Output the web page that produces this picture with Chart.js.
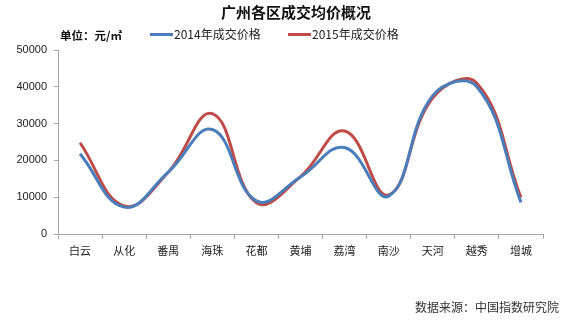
<!DOCTYPE html>
<html>
<head>
<meta charset="utf-8">
<script src="https://cdn.jsdelivr.net/npm/chart.js@4/dist/chart.umd.min.js"></script>
<style>
  html, body { margin: 0; padding: 0; background: #fff; }
  #wrap { position: relative; width: 574px; height: 323px; overflow: hidden; font-family: "Noto Sans CJK SC", "Liberation Sans", sans-serif; color: #222; }
  #c { position: absolute; left: 0; top: 0; }
  .t { position: absolute; white-space: nowrap; line-height: 1; }
  #title { left: 221px; top: 4px; font-size: 15px; font-weight: bold; color: #111; }
  #unit { left: 60px; top: 30px; font-size: 11.5px; font-weight: bold; color: #111; }
  .lg { position: absolute; top: 25px; font-size: 12px; color: #222; }
  .lg i { display: inline-block; width: 23px; height: 3px; vertical-align: middle; margin-right: 1px; position: relative; top: -1px; }
  #src { left: 415px; top: 301px; font-size: 12px; color: #333; }
</style>
</head>
<body>
<div id="wrap">
  <canvas id="c" width="574" height="323"></canvas>
  <div class="t" id="title">广州各区成交均价概况</div>
  <div class="t" id="unit">单位：元/㎡</div>
  <div class="lg" id="lg1" style="left:150px"><i style="background:#4a7ebb"></i><span></span></div>
  <div class="lg" id="lg2" style="left:288px"><i style="background:#be4b48"></i><span></span></div>
  <div class="t" id="src">数据来源：中国指数研究院</div>
</div>
<script>
const categories = ["白云", "从化", "番禺", "海珠", "花都", "黄埔", "荔湾", "南沙", "天河", "越秀", "增城"];
const seriesNames = ["2014年成交价格", "2015年成交价格"];
const price2014 = [21800, 7300, 16800, 28400, 9000, 15500, 23500, 10300, 37600, 40000, 8600];
const price2015 = [24800, 7600, 16800, 32700, 8500, 15600, 28000, 10600, 37000, 41000, 9900];
const yTicks = [0, 10000, 20000, 30000, 40000, 50000];

document.querySelector('#lg1 span').textContent = seriesNames[0];
document.querySelector('#lg2 span').textContent = seriesNames[1];

const axisColor = '#a6a6a6';
new Chart(document.getElementById('c'), {
  type: 'line',
  data: {
    labels: categories,
    datasets: [
      { label: seriesNames[0], data: price2014, borderColor: '#4a7ebb', backgroundColor: '#4a7ebb', borderWidth: 3, pointRadius: 0, tension: 0.42, fill: false },
      { label: seriesNames[1], data: price2015, borderColor: '#be4b48', backgroundColor: '#be4b48', borderWidth: 3, pointRadius: 0, tension: 0.42, fill: false }
    ]
  },
  options: {
    responsive: false,
    animation: false,
    events: [],
    layout: { padding: { left: 0, right: 31, top: 50, bottom: 59 } },
    plugins: { legend: { display: false }, title: { display: false }, tooltip: { enabled: false } },
    scales: {
      x: {
        offset: true,
        grid: { display: true, drawOnChartArea: false, offset: true, tickLength: 5, color: axisColor },
        border: { display: true, color: axisColor, width: 1 },
        ticks: { color: '#222', padding: 5, maxRotation: 0, autoSkip: false, font: { family: '"Noto Sans CJK SC", sans-serif', size: 11 } },
        afterFit: (s) => { s.height = 30; }
      },
      y: {
        min: 0, max: 50000,
        afterBuildTicks: (s) => { s.ticks = yTicks.map(v => ({ value: v })); },
        grid: { display: true, drawOnChartArea: false, tickLength: 4, color: axisColor },
        border: { display: true, color: axisColor, width: 1 },
        ticks: { color: '#222', padding: 7, font: { family: '"Liberation Sans", sans-serif', size: 11 }, callback: (v) => String(v) },
        afterFit: (s) => { s.width = 58; }
      }
    }
  }
});
</script>
</body>
</html>
